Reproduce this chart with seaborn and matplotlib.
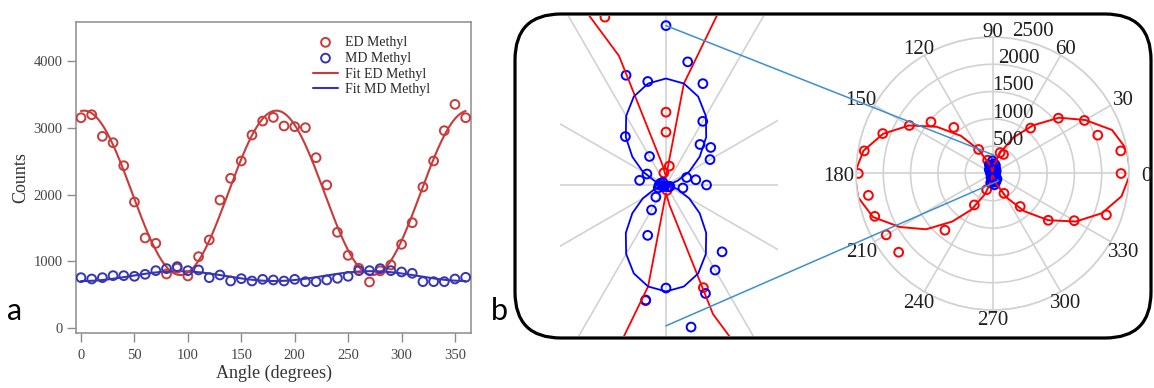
import numpy as np
import pandas as pd
import matplotlib
matplotlib.use("Agg")
import matplotlib.pyplot as plt
from matplotlib.patches import FancyBboxPatch, ConnectionPatch
import seaborn as sns

# ---------------- panel a: counts against analyser angle ----------------
ANGLES_A = list(range(0, 361, 10))
ED_COUNTS = [3152, 3197, 2873, 2778, 2434, 1890, 1352, 1272, 813, 900,
             783, 1072, 1322, 1920, 2245, 2504, 2893, 3102, 3157, 3028,
             3018, 3003, 2554, 2145, 1437, 1092, 898, 693, 860, 948,
             1257, 1581, 2115, 2504, 2958, 3352, 3152]
MD_COUNTS = [758, 738, 758, 788, 788, 778, 808, 863, 893, 923,
             863, 873, 758, 798, 708, 743, 708, 733, 723, 708,
             733, 698, 698, 723, 748, 778, 863, 863, 893, 863,
             843, 823, 698, 698, 698, 738, 763]
X_TICKS_A = [0, 50, 100, 150, 200, 250, 300, 350]
Y_TICKS_A = [0, 1000, 2000, 3000, 4000]

# ---------------- panel b: polar representation ----------------
ANGLES_B = list(range(0, 360, 10))
ED_POLAR = [2354, 2385, 2052, 1943, 1575, 1086, 403, 406, 28, 106,
            18, 260, 508, 1102, 1471, 1758, 2139, 2385, 2458, 2308,
            2295, 2248, 2244, 1356, 665, 315, 171, -77, 8, 159,
            420, 789, 1333, 1728, 2220, np.nan]
MD_POLAR = [59, 44, 32, 74, 85, 77, 107, 157, 182, 232,
            153, 170, 48, 92, 6, 32, 8, 39, 10, 6,
            12, 4, 3, 23, 42, 78, 170, 150, 210, 168,
            143, 127, 4, 5, 6, 25]
ED_POLAR_FIT = [2525, 2500, 2330, 1960, 1590, 1150, 760, 400, 150, 12,
                30, 200, 500, 900, 1330, 1760, 2130, 2400, 2525, 2500,
                2330, 1960, 1590, 1150, 760, 400, 150, 12, 30, 200,
                500, 900, 1330, 1760, 2130, 2400]
MD_POLAR_FIT = [0, 5, 18, 39, 64, 91, 116, 137, 150, 155,
                150, 137, 116, 91, 64, 39, 18, 5, 0, 5,
                18, 39, 64, 91, 116, 137, 150, 155, 150, 137,
                116, 91, 64, 39, 18, 5]
R_RINGS = [500, 1000, 1500, 2000, 2500]
THETA_LABELS = list(range(0, 360, 30))

W, H = 1154, 388
ED_A, MD_A = "#c93a3a", "#3535b5"
ED_B, MD_B = "#ff0000", "#0000ff"
GRID = "#d2d2d2"
LINK = "#3c8fd2"

sns.set_style("ticks")
plt.rcParams["font.family"] = ["Liberation Serif", "DejaVu Sans"]

fig = plt.figure(figsize=(W / 100, H / 100), dpi=100, facecolor="white")

# pixel-unit overlay for the rounded frame of panel b
bg = fig.add_axes([0, 0, 1, 1])
bg.set_xlim(0, W)
bg.set_ylim(H, 0)
bg.axis("off")
bg.add_patch(FancyBboxPatch((515, 14), 636, 324,
                            boxstyle="round,pad=0,rounding_size=46",
                            fc="none", ec="black", lw=2.3))


def cos2_fit(theta_deg, counts, grid_deg):
    """Least-squares fit of a + b*cos(2t) + c*sin(2t) (i.e. a cos^2 law)."""
    t = np.deg2rad(np.asarray(theta_deg, float))
    basis = np.column_stack([np.ones_like(t), np.cos(2 * t), np.sin(2 * t)])
    coef, *_ = np.linalg.lstsq(basis, np.asarray(counts, float), rcond=None)
    g = np.deg2rad(grid_deg)
    return coef[0] + coef[1] * np.cos(2 * g) + coef[2] * np.sin(2 * g)


# ---------------- panel a ----------------
ax = fig.add_axes([76 / W, (H - 333.3) / H, 395 / W, 311.3 / H])
grid_deg = np.linspace(0, 360, 361)
fit_df = pd.DataFrame({
    "angle": grid_deg,
    "ed": cos2_fit(ANGLES_A, ED_COUNTS, grid_deg),
    "md": cos2_fit(ANGLES_A, MD_COUNTS, grid_deg),
})
pts_df = pd.DataFrame({"angle": ANGLES_A, "ed": ED_COUNTS, "md": MD_COUNTS})

sns.scatterplot(data=pts_df, x="angle", y="ed", ax=ax, marker="o", s=40,
                facecolors="none", edgecolor=ED_A, linewidth=1.4,
                label="ED Methyl", zorder=3)
sns.scatterplot(data=pts_df, x="angle", y="md", ax=ax, marker="o", s=40,
                facecolors="none", edgecolor=MD_A, linewidth=1.4,
                label="MD Methyl", zorder=3)
sns.lineplot(data=fit_df, x="angle", y="ed", ax=ax, color=ED_A, lw=1.5,
             label="Fit ED Methyl", zorder=2)
sns.lineplot(data=fit_df, x="angle", y="md", ax=ax, color=MD_A, lw=1.5,
             label="Fit MD Methyl", zorder=2)

ax.set_xlim(-4.7, 365)
ax.set_ylim(-75, 4585)
ax.set_xticks(X_TICKS_A)
ax.set_yticks(Y_TICKS_A)
for sp in ax.spines.values():
    sp.set_color("#8c8c8c")
    sp.set_linewidth(1.1)
ax.tick_params(direction="out", length=6.5, width=1.0, color="#8c8c8c",
               labelcolor="#454545", labelsize=10.5)
ax.tick_params(axis="x", pad=5)
ax.tick_params(axis="y", pad=3)
ax.set_xlabel("Angle (degrees)", fontsize=13, color="#333333", labelpad=2)
ax.set_ylabel("Counts", fontsize=13, color="#333333", labelpad=3)
ax.legend(loc="upper left", bbox_to_anchor=(0.60, 0.955), frameon=False,
          fontsize=10, handlelength=1.8, handletextpad=0.5,
          labelspacing=0.2, borderaxespad=0, borderpad=0)

# ---------------- panel b, left: magnified centre of the polar plot ----------------
px_per_count = 0.687
axl = fig.add_axes([560 / W, (H - 336) / H, 218 / W, 320 / H])
axl.set_xlim(-106 / px_per_count, 112 / px_per_count)
axl.set_ylim(-151 / px_per_count, 169 / px_per_count)
axl.axis("off")
for a in range(0, 180, 30):
    r = np.deg2rad(a)
    axl.axline((0, 0), (np.cos(r), np.sin(r)), color=GRID, lw=1.2, zorder=0)


def to_xy(theta_deg, radius, close=False):
    t = np.deg2rad(np.asarray(theta_deg, float))
    r = np.asarray(radius, float)
    if close:
        t = np.append(t, t[0] + 2 * np.pi)
        r = np.append(r, r[0])
    return pd.DataFrame({"x": r * np.cos(t), "y": r * np.sin(t),
                         "theta": t, "r": r})


ed_fit_xy = to_xy(ANGLES_B, ED_POLAR_FIT, close=True)
md_fit_xy = to_xy(ANGLES_B, MD_POLAR_FIT, close=True)
ed_xy = to_xy(ANGLES_B, ED_POLAR)
md_xy = to_xy(ANGLES_B, MD_POLAR)

sns.lineplot(data=ed_fit_xy, x="x", y="y", ax=axl, sort=False, estimator=None,
             color=ED_B, lw=1.3)
sns.lineplot(data=md_fit_xy, x="x", y="y", ax=axl, sort=False, estimator=None,
             color=MD_B, lw=1.3)
sns.scatterplot(data=ed_xy.dropna(), x="x", y="y", ax=axl, marker="o", s=40,
                facecolors="none", edgecolor=ED_B, linewidth=1.4)
sns.scatterplot(data=md_xy, x="x", y="y", ax=axl, marker="o", s=40,
                facecolors="none", edgecolor=MD_B, linewidth=1.4)
axl.set_xlabel("")
axl.set_ylabel("")

# ---------------- panel b, right: full polar plot ----------------
axp = fig.add_axes([856 / W, 78 / H, 273 / W, 273 / H], projection="polar")
axp.set_facecolor("none")
axp.set_ylim(0, 2500)
axp.set_rgrids(R_RINGS, labels=[""] * len(R_RINGS))
axp.set_thetagrids(THETA_LABELS, labels=[""] * len(THETA_LABELS))
axp.grid(True, color=GRID, lw=1.2)
axp.spines["polar"].set_color(GRID)
axp.spines["polar"].set_linewidth(1.2)

sns.lineplot(data=ed_fit_xy, x="theta", y="r", ax=axp, sort=False,
             estimator=None, color=ED_B, lw=1.4)
sns.scatterplot(data=ed_xy[ed_xy["r"] > 0], x="theta", y="r", ax=axp,
                marker="o", s=40, facecolors="none", edgecolor=ED_B,
                linewidth=1.4)
sns.lineplot(data=md_fit_xy, x="theta", y="r", ax=axp, sort=False,
             estimator=None, color=MD_B, lw=1.4)
sns.scatterplot(data=md_xy, x="theta", y="r", ax=axp, marker="o", s=40,
                facecolors="none", edgecolor=MD_B, linewidth=1.4)
axp.set_xlabel("")
axp.set_ylabel("")

# angle labels sit on a slightly flattened ring outside the outer circle
label_a, label_b = 2820, 2640
for a in THETA_LABELS:
    t = np.deg2rad(a)
    rl = np.hypot(label_a * np.cos(t), label_b * np.sin(t))
    axp.annotate(str(a), xy=(t, rl), xytext=(0, -2.2),
                 textcoords="offset points", ha="center", va="center",
                 fontsize=15, color="#1e1e1e", annotation_clip=False)
ring_shift = {500: 0, 1000: 0, 1500: 0, 2000: 4, 2500: 14}
for rr in R_RINGS:
    axp.annotate(str(rr), xy=(np.pi / 2, rr), xytext=(ring_shift[rr], 1),
                 textcoords="offset points", ha="left", va="baseline",
                 fontsize=15, color="#1e1e1e", annotation_clip=False)

# zoom guides from the magnified view to the centre of the polar plot
for yA, thB, rB in [(232, 78.7, 327), (-205, -53.7, 170)]:
    link = ConnectionPatch(xyA=(0, yA), coordsA=axl.transData,
                           xyB=(np.deg2rad(thB), rB), coordsB=axp.transData,
                           color=LINK, lw=1.1, zorder=5)
    fig.add_artist(link)

# panel letters
fig.text(7 / W, (H - 320.5) / H, "a", ha="left", va="baseline",
         fontsize=22, family=["Lato", "DejaVu Sans"], color="black")
fig.text(491 / W, (H - 320) / H, "b", ha="left", va="baseline",
         fontsize=22, family=["Lato", "DejaVu Sans"], color="black")

fig.savefig("out.png", dpi=100, facecolor="white")
